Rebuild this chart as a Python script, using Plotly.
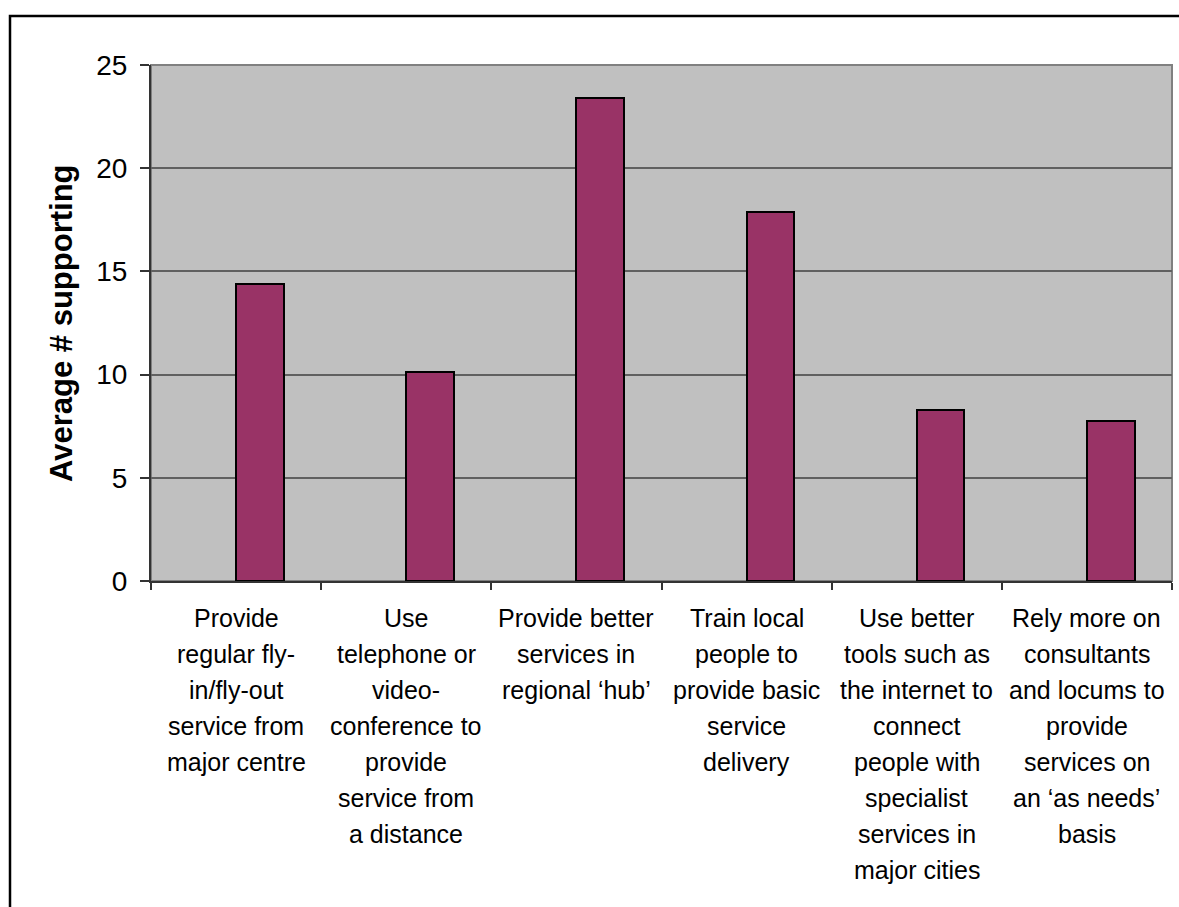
import plotly.graph_objects as go

# Strategies and their average number of supporters
categories = [
    "Provide<br>regular fly-<br>in/fly-out<br>service from<br>major centre",
    "Use<br>telephone or<br>video-<br>conference to<br>provide<br>service from<br>a distance",
    "Provide better<br>services in<br>regional \u2018hub\u2019",
    "Train local<br>people to<br>provide basic<br>service<br>delivery",
    "Use better<br>tools such as<br>the internet to<br>connect<br>people with<br>specialist<br>services in<br>major cities",
    "Rely more on<br>consultants<br>and locums to<br>provide<br>services on<br>an \u2018as needs\u2019<br>basis",
]
values = [14.4, 10.15, 23.4, 17.9, 8.3, 7.75]
y_ticks = [0, 5, 10, 15, 20, 25]
y_title = "Average # supporting"

FONT = "Liberation Sans, Arial, sans-serif"
W, H = 1179, 907
L, R, T, B = 151, 7, 65, 326

xs = list(range(len(categories)))

fig = go.Figure()
fig.add_trace(go.Bar(
    x=xs,
    y=values,
    width=0.28,
    offset=0.0,
    marker=dict(color="#993366", line=dict(color="#000000", width=2)),
    hoverinfo="y",
))

# category labels, one line at a time for Excel-like line spacing
line_gap = 36
for i, label in enumerate(categories):
    for j, line in enumerate(label.split("<br>")):
        fig.add_annotation(
            x=i, xref="x", y=0, yref="paper",
            text=line, showarrow=False,
            xanchor="center", yanchor="top",
            yshift=-(21 + j * line_gap),
            font=dict(family=FONT, size=25, color="#000000"),
        )

pw, ph = W - L - R, H - T - B

# y-axis title
fig.add_annotation(
    x=(61 - L) / pw, xref="paper", y=0.5, yref="paper",
    text="<b>" + y_title + "</b>", showarrow=False, textangle=-90,
    xanchor="center", yanchor="middle",
    font=dict(family=FONT, size=31, color="#000000"),
)

# outer chart frame (extends past the right and bottom edges)
fig.add_shape(
    type="rect", xref="paper", yref="paper",
    x0=(10 - L) / pw, x1=(W + 20 - L) / pw,
    y0=-(H + 20 - (H - B)) / ph, y1=((H - B) - 16) / ph,
    line=dict(color="#000000", width=2.5), fillcolor="rgba(0,0,0,0)",
    layer="above",
)
# plot area border (top/right)
fig.add_shape(
    type="rect", xref="paper", yref="paper", x0=0, x1=1, y0=0, y1=1,
    line=dict(color="#808080", width=2), fillcolor="rgba(0,0,0,0)",
    layer="below",
)

fig.update_layout(
    width=W, height=H,
    margin=dict(l=L, r=R, t=T, b=B, pad=0),
    paper_bgcolor="#FFFFFF",
    plot_bgcolor="#C0C0C0",
    showlegend=False,
    bargap=0,
    font=dict(family=FONT, color="#000000"),
)
fig.update_xaxes(
    range=[-0.5, len(categories) - 0.5],
    tickmode="array",
    tickvals=[k - 0.5 for k in range(len(categories) + 1)],
    showticklabels=False,
    ticks="outside", ticklen=7, tickwidth=1.5, tickcolor="#333333",
    showgrid=False, zeroline=False,
    showline=True, linecolor="#333333", linewidth=2,
)
fig.update_yaxes(
    range=[0, 25],
    tickmode="array", tickvals=y_ticks, ticktext=[str(v) for v in y_ticks],
    tickfont=dict(family=FONT, size=28, color="#000000"),
    ticks="outside", ticklen=9, tickwidth=1.5, tickcolor="#333333",
    ticklabelstandoff=7,
    showgrid=True, gridcolor="#606060", gridwidth=1.5,
    zeroline=False,
    showline=True, linecolor="#333333", linewidth=2,
)

fig.write_html("out.html")
